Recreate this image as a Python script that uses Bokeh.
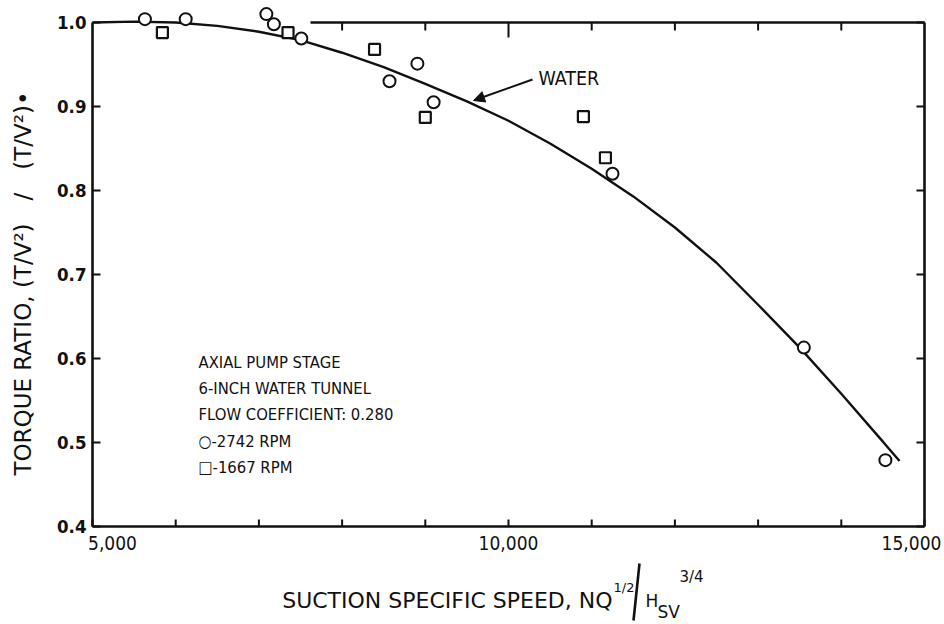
from math import pi

from bokeh.embed import file_html
from bokeh.models import Arrow, NormalHead, Range1d
from bokeh.plotting import figure
from bokeh.resources import INLINE

# Suction specific speed vs. torque ratio, axial pump stage, 6-inch water tunnel

# Faired curve for water
curve_speed = [5000, 5500, 6000, 6500, 7000, 7500, 8000, 8500, 9000, 9500, 10000,
               10500, 11000, 11500, 12000, 12500, 13000, 13500, 14000, 14500, 14700]
curve_ratio = [1.000, 1.001, 1.000, 0.996, 0.989, 0.979, 0.964, 0.947, 0.927, 0.906, 0.883,
               0.856, 0.826, 0.793, 0.756, 0.714, 0.664, 0.613, 0.558, 0.501, 0.478]

# 2742 RPM data (circles)
rpm2742_speed = [5630, 6120, 7090, 7180, 7510, 8570, 8905, 9100, 11250, 13550, 14530]
rpm2742_ratio = [1.004, 1.004, 1.010, 0.998, 0.981, 0.930, 0.951, 0.905, 0.820, 0.613, 0.479]

# 1667 RPM data (squares)
rpm1667_speed = [5840, 7350, 8390, 9000, 10900, 11165]
rpm1667_ratio = [0.988, 0.988, 0.968, 0.887, 0.888, 0.839]

x_ticks = [5000, 6000, 7000, 8000, 9000, 10000, 11000, 12000, 13000, 14000, 15000]
x_label_ticks = [5000, 10000, 15000]
x_label_text = ["5,000", "10,000", "15,000"]
top_ticks = [8000, 9000, 10000, 11000, 12000, 13000, 14000]
y_ticks = [0.4, 0.5, 0.6, 0.7, 0.8, 0.9, 1.0]

legend_lines = ["AXIAL PUMP STAGE", "6-INCH WATER TUNNEL", "FLOW COEFFICIENT: 0.280",
                "\u25cb-2742 RPM", "\u25a1-1667 RPM"]

NARROW = "DejaVu Sans Condensed"
PLAIN = "DejaVu Sans"
INK = "#111111"
AXIS_W = 2.6

# The data frame covers the whole canvas; the chart box sits inside it at
# speed 5,000-15,000 and ratio 0.4-1.0, with its lettering drawn around it.
W, H = 944, 624
BOX_LEFT_PX = 92
PX_PER_SPEED = 832 / 10000.0
PX_PER_RATIO = 840.0
X_MIN = 5000 - BOX_LEFT_PX / PX_PER_SPEED
Y_MAX = 1.0 + 22 / PX_PER_RATIO


def at_x(px):
    """Canvas pixel column -> speed value."""
    return X_MIN + px / PX_PER_SPEED


def at_y(py):
    """Canvas pixel row -> ratio value."""
    return Y_MAX - py / PX_PER_RATIO


p = figure(width=W, height=H, output_backend="svg", toolbar_location=None,
           x_range=Range1d(at_x(0), at_x(W)), y_range=Range1d(at_y(H), at_y(0)),
           x_axis_location=None, y_axis_location=None, min_border=0,
           background_fill_color="white", border_fill_color="white")
p.outline_line_color = None
p.grid.visible = False


def txt(x, y, s, size, font=NARROW, align="left", style="normal", angle=0.0):
    p.text(x=[x], y=[y], text=[s], text_align=align, text_baseline="middle",
           text_font={"value": font}, text_font_size=size, text_font_style=style,
           text_color=INK, angle=angle)


n_y = len(y_ticks)

# Left axis: line, inward ticks, ratio labels
p.segment(x0=[5000], y0=[0.4], x1=[5000], y1=[1.0], line_color=INK, line_width=AXIS_W)
p.ray(x=[5000] * n_y, y=y_ticks, length=8, angle=0, length_units="screen",
      line_color=INK, line_width=2)
p.text(x=[5000] * n_y, y=y_ticks, text=[f"{v:.1f}" for v in y_ticks], x_offset=-6,
       text_align="right", text_baseline="middle", text_font={"value": NARROW},
       text_font_size="18.5px", text_font_style="bold", text_color=INK)

# Right axis: line and inward ticks
p.segment(x0=[15000], y0=[0.4], x1=[15000], y1=[1.0], line_color=INK, line_width=AXIS_W)
p.ray(x=[15000] * n_y, y=y_ticks, length=8, angle=pi, length_units="screen",
      line_color=INK, line_width=2)

# Bottom axis: line, inward ticks at every 1000, labels at 5,000 steps
p.segment(x0=[5000], y0=[0.4], x1=[15000], y1=[0.4], line_color=INK, line_width=AXIS_W)
p.ray(x=x_ticks, y=[0.4] * len(x_ticks), length=7, angle=pi / 2,
      length_units="screen", line_color=INK, line_width=2)
p.text(x=x_label_ticks, y=[0.4] * len(x_label_ticks), text=x_label_text,
       x_offset=[20, 0, -13], y_offset=16, text_align="center", text_baseline="middle",
       text_font={"value": NARROW}, text_font_size="19px", text_color=INK)

# Top frame line, which stops short where the curve runs along the 1.0 level
p.segment(x0=[at_x(310)], y0=[1.0], x1=[15000], y1=[1.0], line_color=INK, line_width=AXIS_W)
p.ray(x=top_ticks, y=[1.0] * len(top_ticks),
      length=[15 if t == 10000 else 8 for t in top_ticks],
      angle=-pi / 2, length_units="screen", line_color=INK, line_width=2)

# Curve and data
p.line(curve_speed, curve_ratio, line_color=INK, line_width=2.4)
p.scatter(rpm2742_speed, rpm2742_ratio, marker="circle", size=12,
          fill_color="white", line_color=INK, line_width=2)
p.scatter(rpm1667_speed, rpm1667_ratio, marker="square", size=11,
          fill_color="white", line_color=INK, line_width=2.2)

# Curve callout
txt(at_x(538), at_y(78), "WATER", "19.5px")
p.add_layout(Arrow(x_start=at_x(532), y_start=at_y(79), x_end=at_x(473), y_end=at_y(100),
                   line_color=INK, line_width=2,
                   end=NormalHead(size=11, fill_color=INK, line_color=INK)))

# Legend block
for i, line in enumerate(legend_lines):
    txt(at_x(198), at_y(362 + 26.2 * i), line, "16.5px")

# Y-axis title
txt(at_x(22), at_y(283), "TORQUE RATIO, (T/V\u00b2)\u2003/\u2003(T/V\u00b2)\u2022", "23px",
    font=PLAIN, align="center", angle=pi / 2)

# X-axis title: NQ^(1/2) / H_SV^(3/4)
txt(at_x(612), at_y(600), "SUCTION SPECIFIC SPEED, NQ", "22px", font=PLAIN, align="right")
txt(at_x(613), at_y(587), "1/2", "13px", font=PLAIN)
p.segment(x0=[at_x(633)], y0=[at_y(620)], x1=[at_x(639)], y1=[at_y(563)],
          line_color=INK, line_width=2.6)
txt(at_x(645), at_y(600), "H", "17px", font=PLAIN)
txt(at_x(657), at_y(611), "SV", "17px", font=PLAIN)
txt(at_x(679), at_y(576), "3/4", "15px", font=PLAIN)

open("out.html", "w").write(file_html(p, INLINE))
